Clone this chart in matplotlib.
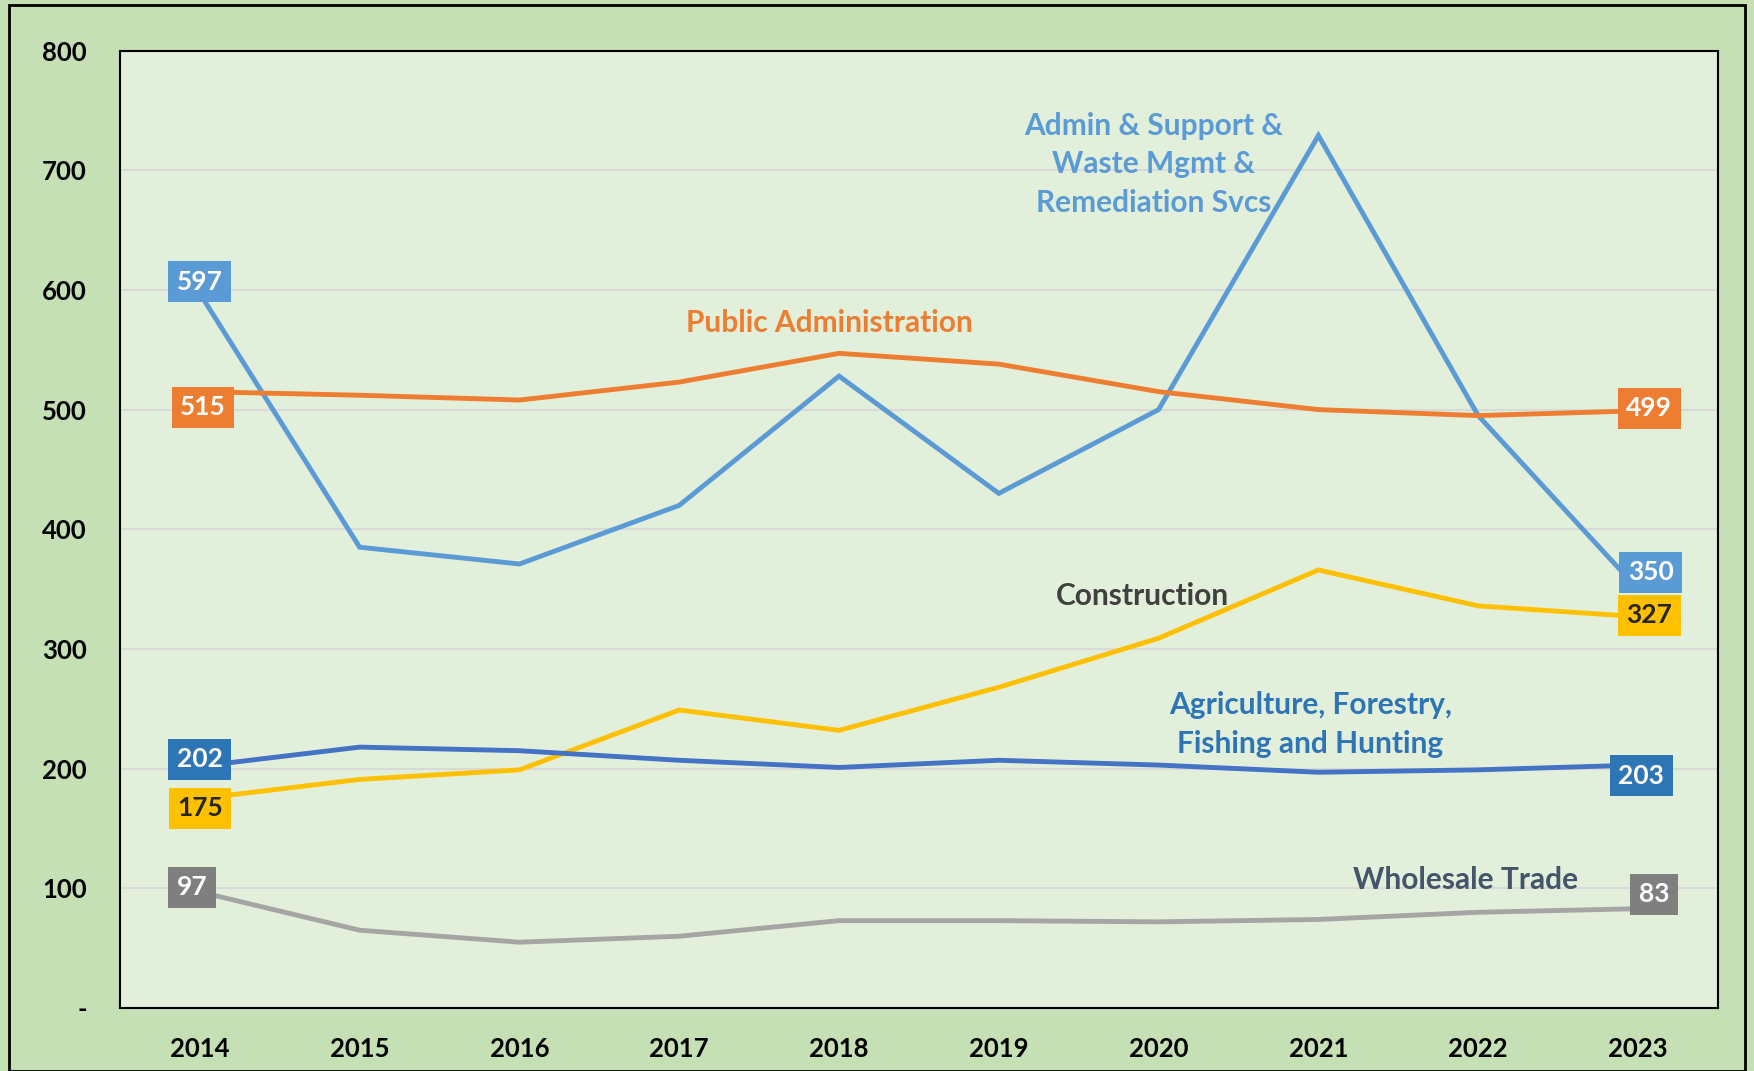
import matplotlib
matplotlib.use("Agg")
import matplotlib.pyplot as plt
from matplotlib.patches import Rectangle

plt.rcParams['font.family'] = ['Lato', 'DejaVu Sans']

years = ['2014', '2015', '2016', '2017', '2018', '2019', '2020', '2021', '2022', '2023']
admin_support = [597, 385, 371, 420, 528, 430, 500, 729, 495, 350]
public_admin = [515, 512, 508, 523, 547, 538, 515, 500, 495, 499]
construction = [175, 191, 199, 249, 232, 268, 309, 366, 336, 327]
agriculture = [202, 218, 215, 207, 201, 207, 203, 197, 199, 203]
wholesale = [97, 65, 55, 60, 73, 73, 72, 74, 80, 83]

y_ticks = [0, 100, 200, 300, 400, 500, 600, 700, 800]
y_tick_labels = ['-', '100', '200', '300', '400', '500', '600', '700', '800']

fig = plt.figure(figsize=(17.54, 10.71), dpi=100, facecolor='#C5E0B4')
fig.patches.append(Rectangle((0.005, 0.0), 0.99, 0.995, transform=fig.transFigure,
                             fill=False, edgecolor='black', linewidth=2))
ax = fig.add_axes([0.0684, 0.0588, 0.911, 0.894])
ax.set_facecolor('#E2EFDA')

x = list(range(len(years)))
# (values, line colour, box colour, text colour, left offset, right offset)
series = [
    (admin_support, '#5B9BD5', '#5B9BD5', 'white', (0, 10), (0.08, 14)),
    (public_admin, '#ED7D31', '#ED7D31', 'white', (0.02, -13), (0.07, 2)),
    (construction, '#FFC000', '#FFC000', '#262626', (0, -8), (0.07, 1)),
    (agriculture, '#4472C4', '#2E75B6', 'white', (0, 6), (0.02, -9)),
    (wholesale, '#A5A5A5', '#7F7F7F', 'white', (-0.05, 4), (0.1, 12)),
]
for vals, lc, bc, tc, loff, roff in series:
    ax.plot(x, vals, color=lc, linewidth=3.5, solid_joinstyle='miter')
    for i, off in ((0, loff), (len(x) - 1, roff)):
        ax.text(x[i] + off[0], vals[i] + off[1], str(vals[i]), ha='center', va='center',
                fontsize=19, fontweight='bold', color=tc,
                bbox=dict(boxstyle='square,pad=0.32', facecolor=bc, edgecolor='none'))

ax.text(5.97, 705, 'Admin & Support &\nWaste Mgmt &\nRemediation Svcs', ha='center', va='center',
        fontsize=21.5, fontweight='bold', color='#5B9BD5', linespacing=1.45)
ax.text(3.94, 572, 'Public Administration', ha='center', va='center',
        fontsize=21.5, fontweight='bold', color='#ED7D31')
ax.text(5.90, 344, 'Construction', ha='center', va='center',
        fontsize=21.5, fontweight='bold', color='#404040')
ax.text(6.95, 237, 'Agriculture, Forestry,\nFishing and Hunting', ha='center', va='center',
        fontsize=21.5, fontweight='bold', color='#2E75B6', linespacing=1.45)
ax.text(7.92, 107, 'Wholesale Trade', ha='center', va='center',
        fontsize=21.5, fontweight='bold', color='#44546A')

ax.set_xlim(-0.5, len(years) - 0.5)
ax.set_ylim(0, 800)
ax.set_xticks(x)
ax.set_xticklabels(years, fontsize=18.5, fontweight='bold')
ax.set_yticks(y_ticks)
ax.set_yticklabels(y_tick_labels, fontsize=18.5, fontweight='bold')
ax.tick_params(length=0)
ax.tick_params(axis='x', pad=21)
ax.tick_params(axis='y', pad=24)
ax.grid(axis='y', color='#D9D9D9', linewidth=1.5)
ax.set_axisbelow(True)
for s in ax.spines.values():
    s.set_color('black')
    s.set_linewidth(1.5)

fig.savefig('out.png', dpi=100, facecolor=fig.get_facecolor())
